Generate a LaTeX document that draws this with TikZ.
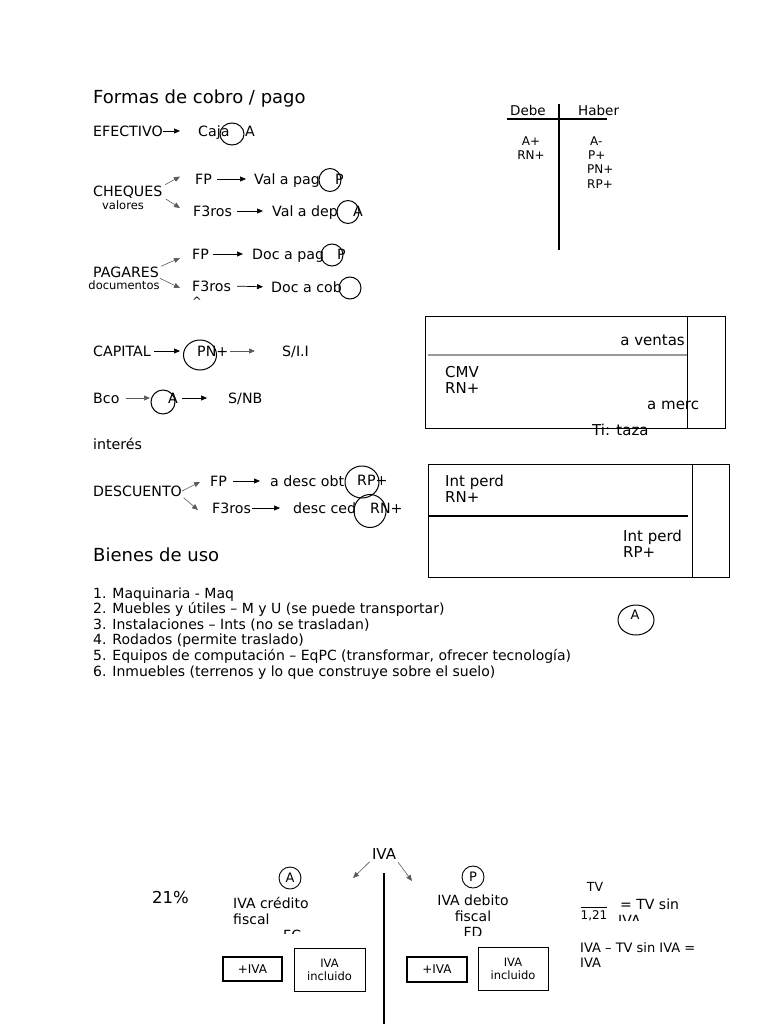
\documentclass[tikz,border=0pt]{standalone}
\usepackage{fontspec}
\setmainfont{DejaVu Sans}
\usetikzlibrary{arrows.meta,positioning,calc,shapes.geometric}

\tikzset{
  txt/.style={inner sep=0pt, anchor=west, text height=10.4pt, text depth=0pt,
              font=\fontsize{14.2}{16}\selectfont},
  lst/.style={inner sep=0pt, anchor=west, text height=10.2pt, text depth=0pt,
              font=\fontsize{14}{15.6}\selectfont},
  sm/.style={inner sep=0pt, font=\fontsize{11.5}{13}\selectfont},
  cta/.style={inner sep=0pt, anchor=west, text height=10.9pt, text depth=0pt,
              font=\fontsize{15}{16}\selectfont},
  big/.style={inner sep=0pt, anchor=west, text height=13.1pt, text depth=0pt,
              font=\fontsize{18}{20}\selectfont},
  arr/.style={-{Triangle[length=6pt,width=5pt]}, line width=0.7pt},
  sarr/.style={-{Triangle[length=6pt,width=5pt]}, draw=black!65, line width=0.6pt},
  ring/.style={line width=1pt},
  ivabox/.style={draw, line width=1.1pt, inner sep=0pt, align=center,
                 font=\fontsize{11.5}{13}\selectfont},
}

\begin{document}
\begin{tikzpicture}[x=1pt,y=-1pt]
  \useasboundingbox (0,0) rectangle (768,1024);

  % formas de cobro / pago
  \node[big] (formas) at (93,97) {Formas de cobro / pago};

  \node[txt] (efec) at (93,131) {EFECTIVO};
  \node[txt] (caja) at (198,131) {Caja};
  \node[txt] (cajaA) at (245,131) {A};
  \draw[ring] (232,134) ellipse (12 and 11);
  \draw[arr, shorten >=18pt] (efec.east) -- (caja.west);

  \node[txt] (cheq) at (93,191.5) {CHEQUES};
  \node[sm] (valores) at (123,205) {valores};
  \node[txt] (fpC) at (195,179) {FP};
  \node[txt] (valpag) at (254,179) {Val a pag};
  \node[txt] (valP) at (335,179) {P};
  \node[txt] (f3C) at (193,211) {F3ros};
  \node[txt] (valdep) at (272,211) {Val a dep};
  \node[txt] (valA) at (353,211) {A};
  \draw[ring] (330,180) ellipse (11 and 11.5);
  \draw[ring] (348,212) ellipse (11 and 11.5);
  \draw[sarr, shorten <=3pt] (cheq.north east) -- ([xshift=-15pt,yshift=-3pt]fpC.north west);
  \draw[sarr, shorten <=4pt] (cheq.south east) -- ([xshift=-13pt,yshift=3pt]f3C.west);
  \draw[arr, shorten <=5pt, shorten >=8pt] (fpC.east) -- (valpag.west);
  \draw[arr, shorten <=5pt, shorten >=9pt] (f3C.east) -- (valdep.west);

  \node[txt] (pagares) at (93,272.5) {PAGARES};
  \node[sm] (docum) at (124,285.5) {documentos};
  \node[txt] (fpP) at (192,254) {FP};
  \node[txt] (docpag) at (252,254) {Doc a pag};
  \node[txt] (docP) at (337,254) {P};
  \node[txt] (f3P) at (192,286) {F3ros};
  \node[txt] (doccob) at (271,287) {Doc a cob};
  \node[sm] (caret) at (197,301) {\textasciicircum};
  \draw[ring] (332,255) ellipse (11 and 11);
  \draw[ring] (350,288) ellipse (11 and 11);
  \draw[sarr, shorten <=2pt] (pagares.north east) -- ([xshift=-12pt,yshift=-4pt]fpP.west);
  \draw[sarr, shorten <=1pt] (pagares.south east) -- ([xshift=-12pt,yshift=-2pt]f3P.west);
  \draw[arr, shorten <=4pt, shorten >=9pt] (fpP.east) -- (docpag.west);
  \draw[arr, shorten <=6pt, shorten >=8pt] (f3P.east) -- (doccob.west);

  % cuenta T
  \node[txt, font=\fontsize{13.5}{16}\selectfont] (debe) at (510,110) {Debe};
  \node[txt, font=\fontsize{13.5}{16}\selectfont] (haber) at (578,110) {Haber};
  \draw[line width=1.2pt] (507,119) -- (607,119);
  \draw[line width=2pt] (559,104) -- (559,250);
  \begin{scope}[every node/.style={inner sep=0pt, text height=8.8pt, text depth=0pt,
                                   font=\fontsize{12}{14}\selectfont}]
    \node (dA) at (531,141) {A+};
    \node (dRN) at (531,155) {RN+};
    \node[anchor=west] (hA) at (590,141) {A-};
    \node[anchor=west] (hP) at (588,155) {P+};
    \node[anchor=west] (hPN) at (587,169.5) {PN+};
    \node[anchor=west] (hRP) at (587,184) {RP+};
  \end{scope}

  % capital, bco, descuento
  \node[txt] (capital) at (93,351) {CAPITAL};
  \node[txt] (pn) at (197,351) {PN+};
  \node[txt] (sii) at (282,351) {S/I.I};
  \draw[ring] (200,355) ellipse (16.5 and 15);
  \draw[arr, shorten <=3pt, shorten >=17pt] (capital.east) -- (pn.west);
  \draw[sarr, shorten <=2pt, shorten >=27pt] (pn.east) -- (sii.west);

  \node[txt] (bco) at (93,398) {Bco};
  \node[txt] (bcoA) at (168,398) {A};
  \node[txt] (snb) at (228,398) {S/NB};
  \draw[ring] (163,402) ellipse (12 and 12);
  \draw[sarr, shorten <=6pt, shorten >=18pt] (bco.east) -- (bcoA.west);
  \draw[arr, shorten <=4pt, shorten >=21pt] (bcoA.east) -- (snb.west);

  \node[txt] (interes) at (93,444) {interés};

  \node[txt] (desc) at (93,491) {DESCUENTO};
  \node[txt] (fpD) at (210,481) {FP};
  \node[txt] (descobt) at (270,481) {a desc obt};
  \node[txt] (rpD) at (357,480) {RP+};
  \node[txt] (f3D) at (212,508) {F3ros};
  \node[txt] (descced) at (293,508) {desc ced};
  \node[txt] (rnD) at (370,508) {RN+};
  \draw[ring] (362,482) ellipse (17 and 16);
  \draw[ring] (370,511) ellipse (16 and 16.5);
  \draw[sarr] (desc.east) -- ([xshift=-10pt,yshift=-1pt]fpD.west);
  \draw[sarr, shorten <=2pt] (desc.south east) -- ([xshift=-14pt,yshift=-2pt]f3D.west);
  \draw[arr, shorten <=6pt, shorten >=10pt] (fpD.east) -- (descobt.west);
  \draw[arr, shorten <=1pt, shorten >=13pt] (f3D.east) -- (descced.west);

  % cuadros de cuentas
  \draw[line width=0.8pt] (425,316) rectangle (725,428);
  \draw[line width=0.8pt] (687,316) -- (687,428);
  \draw[black!40, line width=1.3pt] (428,355) -- (687,355);
  \node[cta, anchor=east] (ventas) at (685,340) {a ventas};
  \node[cta] (cmv) at (445,372) {CMV};
  \node[cta] (cmvRN) at (445,388) {RN+};
  \node[cta] (merc) at (647,404) {a merc};
  \node[cta] (taza) at (592,430) {Ti: taza};

  \draw[line width=0.8pt] (428,464) rectangle (729,577);
  \draw[line width=0.8pt] (692,464) -- (692,577);
  \draw[line width=2.5pt] (428,516) -- (688,516);
  \node[cta] (intA) at (445,481) {Int perd};
  \begin{scope}
    \clip (440,488) rectangle (520,501);
    \node[cta] (intARN) at (445,497) {RN+};
  \end{scope}
  \node[cta] (intB) at (623,536) {Int perd};
  \begin{scope}
    \clip (615,543) rectangle (700,557);
    \node[cta] (intBRP) at (623,552) {RP+};
  \end{scope}

  % bienes de uso
  \node[big] (bienes) at (93,555) {Bienes de uso};
  \node[lst] (b1) at (93,593) {1. Maquinaria - Maq};
  \node[lst] (b2) at (93,608.6) {2. Muebles y útiles – M y U (se puede transportar)};
  \node[lst] (b3) at (93,624.2) {3. Instalaciones – Ints (no se trasladan)};
  \node[lst] (b4) at (93,639.8) {4. Rodados (permite traslado)};
  \node[lst] (b5) at (93,655.4) {5. Equipos de computación – EqPC (transformar, ofrecer tecnología)};
  \node[lst] (b6) at (93,671) {6. Inmuebles (terrenos y lo que construye sobre el suelo)};
  \node[inner sep=0pt, font=\fontsize{13}{15}\selectfont] (bA) at (635,615) {A};
  \draw[ring] (636,620) ellipse (18 and 15);

  % IVA
  \node[inner sep=0pt, font=\fontsize{15}{17}\selectfont] (iva) at (384,854) {IVA};
  \coordinate (ivaL) at (353,878);
  \coordinate (ivaR) at (412,881);
  \draw[sarr, shorten <=3pt] (iva.south west) -- (ivaL);
  \draw[sarr, shorten <=3pt] (iva.south east) -- (ivaR);
  \draw[line width=1.6pt] (384,873) -- (384,1024);

  \node[big, font=\fontsize{16.5}{19}\selectfont] (pct) at (152,897) {21\%};
  \node[circle, draw, line width=0.9pt, inner sep=1.5pt, minimum size=22pt,
        font=\fontsize{13}{15}\selectfont] (ivaA) at (290,878) {A};
  \node[cta, font=\fontsize{14}{16}\selectfont] (credito) at (233,903) {IVA crédito};
  \node[cta, font=\fontsize{14}{16}\selectfont] (credfis) at (233,919) {fiscal};
  \begin{scope}
    \clip (270,926) rectangle (320,933);
    \node[cta, font=\fontsize{14}{16}\selectfont] (fc) at (283,935) {FC};
  \end{scope}

  \node[circle, draw, line width=0.9pt, inner sep=1.5pt, minimum size=22pt,
        font=\fontsize{13}{15}\selectfont] (ivaP) at (473,877) {P};
  \node[inner sep=0pt, font=\fontsize{14}{16}\selectfont] (debito) at (473,900) {IVA debito};
  \node[inner sep=0pt, font=\fontsize{14}{16}\selectfont] (debfis) at (473,916) {fiscal};
  \begin{scope}
    \clip (455,925) rectangle (495,935);
    \node[inner sep=0pt, font=\fontsize{14}{16}\selectfont] (fd) at (473,932) {FD};
  \end{scope}

  \node[inner sep=0pt, font=\fontsize{12.5}{14}\selectfont] (tv) at (595,887) {TV};
  \draw[line width=0.8pt] (581,907) -- (607,907);
  \node[inner sep=0pt, font=\fontsize{12}{14}\selectfont] (div) at (594,916) {1,21};
  \node[cta, font=\fontsize{14}{16}\selectfont] (sin) at (620,904) {= TV sin};
  \begin{scope}
    \clip (610,912) rectangle (660,920);
    \node[cta, font=\fontsize{14}{16}\selectfont] (sinIVA) at (618,920) {IVA};
  \end{scope}
  \node[txt, font=\fontsize{13}{15}\selectfont] (resta) at (580,947) {IVA – TV sin IVA =};
  \node[txt, font=\fontsize{13}{15}\selectfont] (resta2) at (580,962) {IVA};

  \node[ivabox, minimum width=59pt, minimum height=24pt,
        font=\fontsize{12}{14}\selectfont] (masA) at (252.5,969) {+IVA};
  \node[ivabox, line width=0.8pt, minimum width=71pt, minimum height=43pt] (inclA) at (329.5,969.5) {IVA\\incluido};
  \node[ivabox, minimum width=60pt, minimum height=25pt,
        font=\fontsize{12}{14}\selectfont] (masP) at (437,969.5) {+IVA};
  \node[ivabox, line width=0.8pt, minimum width=70pt, minimum height=43pt] (inclP) at (513,968.5) {IVA\\incluido};
\end{tikzpicture}
\end{document}
